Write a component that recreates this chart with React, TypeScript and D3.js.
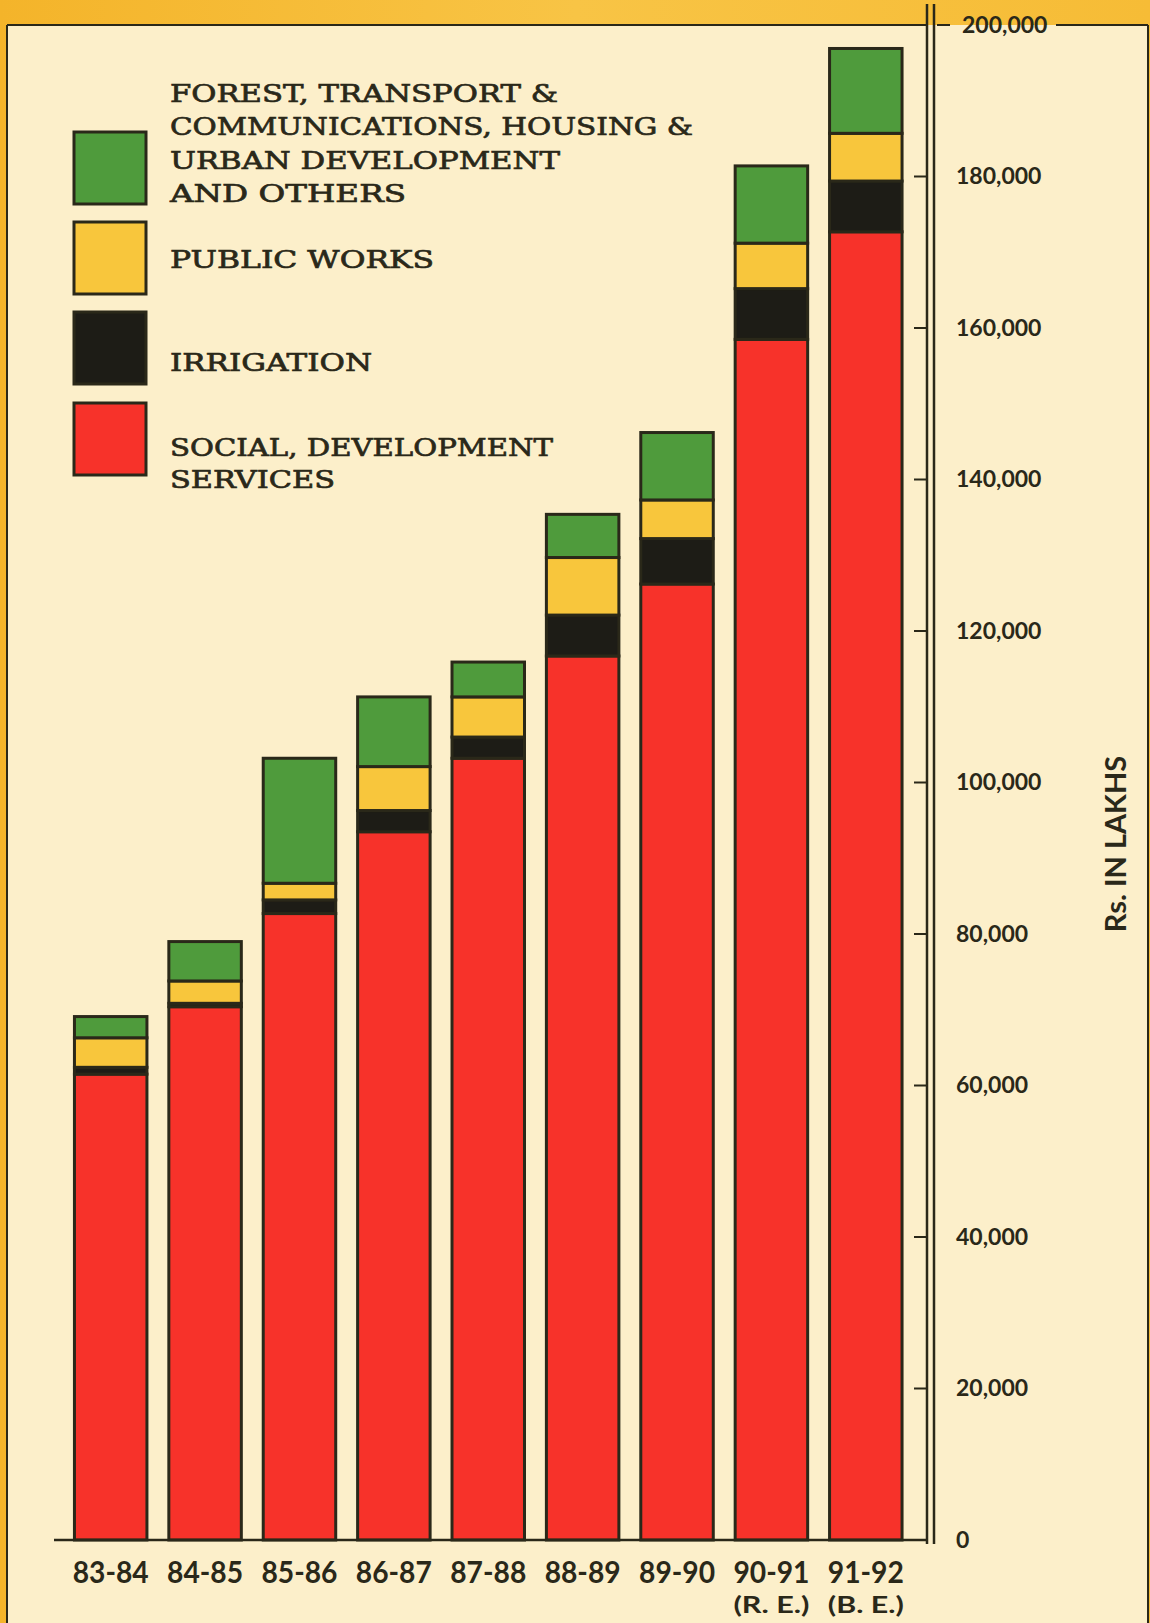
import React from "react";
import * as d3 from "d3";

const categories = ["83-84", "84-85", "85-86", "86-87", "87-88", "88-89", "89-90", "90-91", "91-92"];
const subLabels = ["", "", "", "", "", "", "", "(R. E.)", "(B. E.)"];
// Rs. in lakhs
const social = [61500, 70400, 82700, 93500, 103200, 116700, 126200, 158500, 172700];
const irrigation = [900, 450, 1800, 2800, 2800, 5400, 6000, 6700, 6700];
const publicWorks = [3900, 2950, 2200, 5800, 5300, 7600, 5100, 6000, 6300];
const others = [2800, 5200, 16500, 9200, 4600, 5700, 8900, 10200, 11200];
const tickValues = [0, 20000, 40000, 60000, 80000, 100000, 120000, 140000, 160000, 180000, 200000];
const tickLabels = ["0", "20,000", "40,000", "60,000", "80,000", "100,000", "120,000", "140,000", "160,000", "180,000", "200,000"];

const seriesKeys = ["social", "irrigation", "publicWorks", "others"];
const seriesColors: Record<string, string> = {
  social: "#f7322a",
  irrigation: "#1d1c16",
  publicWorks: "#f8c63c",
  others: "#4f9b3c",
};

const legendItems = [
  { key: "others", lines: ["FOREST, TRANSPORT &", "COMMUNICATIONS, HOUSING &", "URBAN  DEVELOPMENT", "AND  OTHERS"], widths: [388, 523, 390, 236], ys: [93, 126, 160, 193], box: 132 },
  { key: "publicWorks", lines: ["PUBLIC  WORKS"], widths: [264], ys: [259], box: 222 },
  { key: "irrigation", lines: ["IRRIGATION"], widths: [202], ys: [362], box: 312 },
  { key: "social", lines: ["SOCIAL, DEVELOPMENT", "SERVICES"], widths: [383, 165], ys: [447, 479], box: 403 },
];

const INK = "#2a2819";
const CREAM = "#fcefca";

export default function App() {
  const W = 1150, H = 1623;
  const x = d3.scaleBand<string>().domain(categories).range([63.5, 913]).paddingInner(0.232).paddingOuter(0.116);
  const y = d3.scaleLinear().domain([0, 200000]).range([1540, 25]);

  const rows = categories.map((c, i) => ({
    cat: c,
    social: social[i],
    irrigation: irrigation[i],
    publicWorks: publicWorks[i],
    others: others[i],
  }));
  const stacked = d3.stack<any>().keys(seriesKeys)(rows);

  const sans = "Lato, 'Open Sans', sans-serif";
  const serif = "'DejaVu Serif', 'Liberation Serif', serif";

  return (
    <svg width={W} height={H} style={{ position: "absolute", left: 0, top: 0 }}>
      <defs>
        <linearGradient id="bgY" x1="0" y1="0" x2="1" y2="0">
          <stop offset="0" stopColor="#f4b42a" />
          <stop offset="0.5" stopColor="#f8c445" />
          <stop offset="1" stopColor="#f6bc36" />
        </linearGradient>
      </defs>
      <rect x={0} y={0} width={W} height={H} fill="url(#bgY)" />
      <rect x={7} y={25} width={1141} height={H - 25} fill={CREAM} />
      {/* frame lines */}
      <line x1={7} y1={25} x2={7} y2={H} stroke={INK} strokeWidth={2} />
      <line x1={1148} y1={25} x2={1148} y2={H} stroke={INK} strokeWidth={2} />
      <line x1={7} y1={y(200000)} x2={926} y2={y(200000)} stroke={INK} strokeWidth={2} />
      <line x1={1056} y1={y(200000)} x2={1148} y2={y(200000)} stroke={INK} strokeWidth={2} />

      {/* bars */}
      {stacked.map((s) => (
        <g key={s.key}>
          {s.map((d, i) => (
            <rect
              key={i}
              x={x(categories[i])!}
              y={y(d[1])}
              width={x.bandwidth()}
              height={Math.max(0, y(d[0]) - y(d[1]))}
              fill={seriesColors[s.key]}
              stroke={INK}
              strokeWidth={3}
            />
          ))}
        </g>
      ))}

      {/* baseline */}
      <line x1={54} y1={y(0)} x2={928} y2={y(0)} stroke={INK} strokeWidth={2.5} />

      {/* axis double line */}
      <line x1={927} y1={4} x2={927} y2={y(0) + 4} stroke={INK} strokeWidth={2.5} />
      <line x1={934} y1={4} x2={934} y2={y(0) + 4} stroke={INK} strokeWidth={2.5} />

      {/* ticks and labels */}
      {tickValues.map((v, i) => (
        <g key={v}>
          {v === 200000 ? (
            <line x1={937} y1={y(v)} x2={950} y2={y(v)} stroke={INK} strokeWidth={2} />
          ) : (
            <line x1={914} y1={y(v)} x2={926} y2={y(v)} stroke={INK} strokeWidth={2} />
          )}
          <text
            x={v === 200000 ? 962 : 956}
            y={y(v) + 2}
            dominantBaseline="middle"
            fontFamily={sans}
            fontWeight={700}
            fontSize={23}
            fill={INK}
          >
            {tickLabels[i]}
          </text>
        </g>
      ))}

      {/* axis title */}
      <text
        transform={`translate(1126, 844) rotate(-90)`}
        textAnchor="middle"
        fontFamily={sans}
        fontWeight={700}
        fontSize={29}
        fill={INK}
      >
        Rs. IN LAKHS
      </text>

      {/* category labels */}
      {categories.map((c, i) => (
        <g key={c}>
          <text
            x={x(c)! + x.bandwidth() / 2}
            y={1583}
            textAnchor="middle"
            fontFamily={sans}
            fontWeight={700}
            fontSize={31}
            textLength={76}
            lengthAdjust="spacingAndGlyphs"
            fill={INK}
          >
            {c}
          </text>
          {subLabels[i] && (
            <text
              x={x(c)! + x.bandwidth() / 2}
              y={1613}
              textAnchor="middle"
              fontFamily={sans}
              fontWeight={700}
              fontSize={23}
              textLength={76}
              lengthAdjust="spacingAndGlyphs"
              fill={INK}
            >
              {subLabels[i]}
            </text>
          )}
        </g>
      ))}

      {/* legend */}
      {legendItems.map((it) => (
        <g key={it.key}>
          <rect x={74} y={it.box} width={72} height={72} fill={seriesColors[it.key]} stroke={INK} strokeWidth={3} />
          {it.lines.map((ln, j) => (
            <text
              key={j}
              x={170}
              y={it.ys[j] + 9}
              fontFamily={serif}
              fontSize={25}
              textLength={it.widths[j]}
              lengthAdjust="spacingAndGlyphs"
              fill={INK}
              stroke={INK}
              strokeWidth={0.7}
            >
              {ln}
            </text>
          ))}
        </g>
      ))}
    </svg>
  );
}
